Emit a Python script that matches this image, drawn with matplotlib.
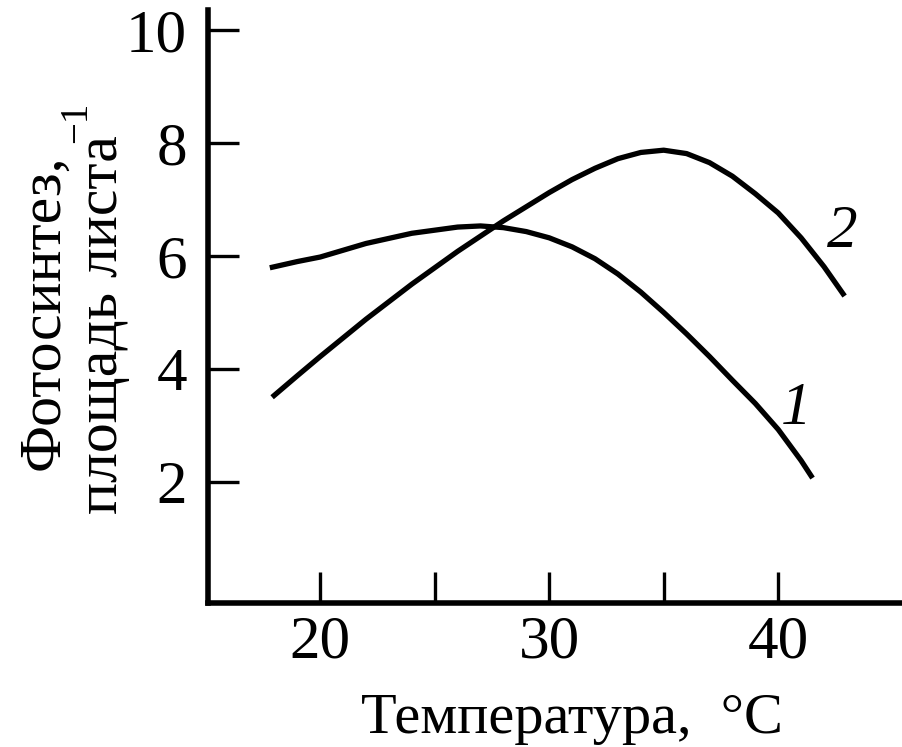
import matplotlib
matplotlib.use("Agg")
import matplotlib.pyplot as plt

# Curve 1
t1 = [17.8, 19, 20, 22, 24, 26, 27, 28, 29, 30, 31, 32, 33, 34, 35, 36, 37, 38, 39, 40, 41, 41.5]
p1 = [5.79, 5.90, 5.98, 6.22, 6.40, 6.51, 6.53, 6.50, 6.43, 6.32, 6.16, 5.95, 5.68, 5.36, 5.00, 4.62, 4.22, 3.80, 3.39, 2.93, 2.38, 2.07]
# Curve 2
t2 = [17.9, 19, 20, 22, 24, 26, 28, 30, 31, 32, 33, 34, 35, 36, 37, 38, 39, 40, 41, 42, 42.9]
p2 = [3.50, 3.88, 4.22, 4.88, 5.50, 6.08, 6.62, 7.12, 7.35, 7.55, 7.72, 7.83, 7.87, 7.81, 7.65, 7.41, 7.10, 6.76, 6.32, 5.81, 5.29]

xticks_major = [20, 25, 30, 35, 40]
xticklabels = ["20", "", "30", "", "40"]
yticks = [2, 4, 6, 8, 10]
yticklabels = ["2", "4", "6", "8", "10"]

plt.rcParams['font.family'] = ['Liberation Serif', 'DejaVu Serif']

W, H = 903, 747
fig = plt.figure(figsize=(W / 100, H / 100), dpi=100)
ax = fig.add_axes([208 / W, 1 - 603 / H, 1 - 208 / W, (603 - 10) / H])
ax.plot(t1, p1, color='black', lw=3.8, solid_capstyle='butt')
ax.plot(t2, p2, color='black', lw=3.8, solid_capstyle='butt')

ax.set_xlim(15.1, 45.45)
ax.set_ylim(-0.14, 10.35)
for s in ['top', 'right']:
    ax.spines[s].set_visible(False)
for s in ['left', 'bottom']:
    ax.spines[s].set_linewidth(4)

ax.set_xticks(xticks_major)
ax.set_xticklabels(xticklabels)
ax.set_yticks(yticks)
ax.set_yticklabels(yticklabels)
ax.tick_params(axis='both', direction='in', length=22, width=2.4, labelsize=44)
ax.tick_params(axis='x', pad=9)
ax.tick_params(axis='y', pad=15)

ax.text(40.79, 3.29, "1", style='italic', fontsize=44, ha='center', va='center')
ax.text(42.8, 6.41, "2", style='italic', fontsize=44, ha='center', va='center')

fig.text(572 / W, 1 - 733 / H, "Температура,  °C", fontsize=42, ha='center', va='baseline')
fig.text(58 / W, 1 - 312 / H, "Фотосинтез,", fontsize=43, rotation=90,
         rotation_mode='anchor', ha='center', va='baseline')
fig.text(117 / W, 1 - 325 / H, "площадь листа", fontsize=43, rotation=90,
         rotation_mode='anchor', ha='center', va='baseline')
fig.text(77 / W, 1 - 122 / H, "−1", fontsize=28, rotation=90, ha='center', va='center')

fig.savefig("out.png", dpi=100)
